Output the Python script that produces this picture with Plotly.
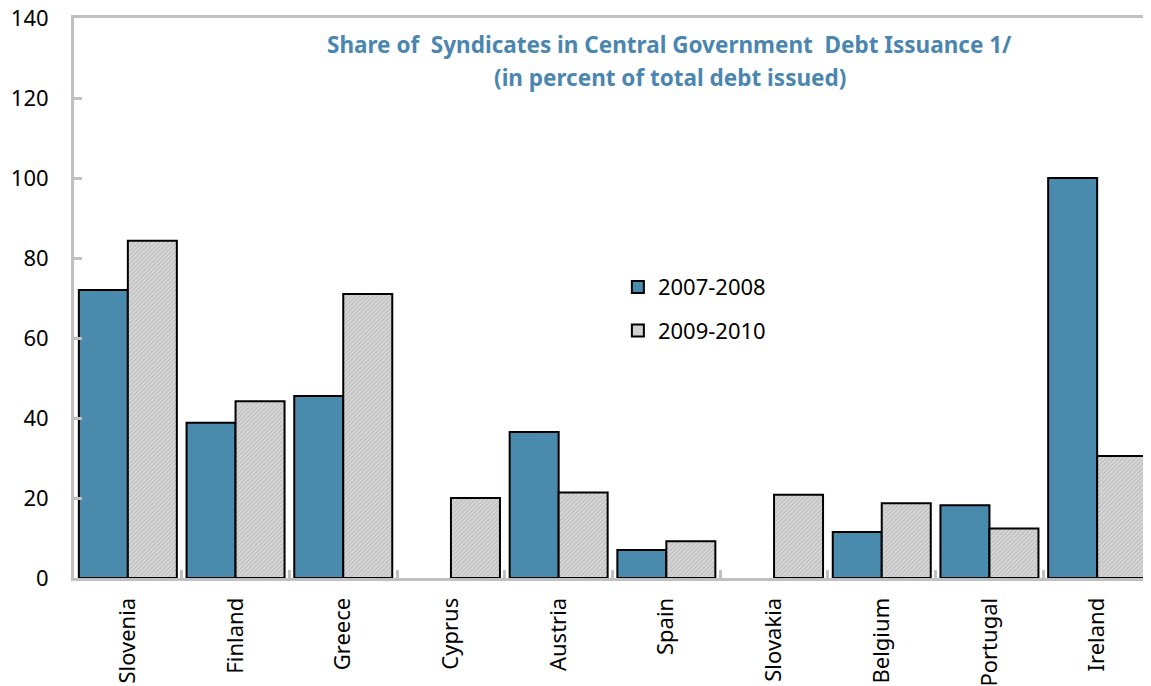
import plotly.graph_objects as go

countries = ["Slovenia", "Finland", "Greece", "Cyprus", "Austria", "Spain",
             "Slovakia", "Belgium", "Portugal", "Ireland"]
s2007_2008 = [72, 38.8, 45.5, None, 36.5, 7, None, 11.5, 18.2, 100]
s2009_2010 = [84.3, 44.2, 71, 20, 21.4, 9.2, 20.8, 18.7, 12.4, 30.5]
series_names = ["2007-2008", "2009-2010"]
title_lines = ["Share of  Syndicates in Central Government  Debt Issuance 1/",
               "(in percent of total debt issued)"]
y_ticks = [0, 20, 40, 60, 80, 100, 120, 140]

FONT = "Noto Sans"
AXIS_GRAY = "#c0c0c0"
TITLE_BLUE = "#4a86b0"

fig = go.Figure()
fig.add_trace(go.Bar(
    x=countries, y=s2007_2008, name=series_names[0],
    marker=dict(color="#4a8aad", line=dict(color="black", width=2)),
    legendgroup="a",
))
fig.add_trace(go.Bar(
    x=countries, y=s2009_2010, name=series_names[1],
    marker=dict(color="#d4d4d4", line=dict(color="black", width=2),
                pattern=dict(shape="/", fgcolor="#9a9a9a", bgcolor="#d8d8d8",
                             size=3, solidity=0.35)),
    legendgroup="b",
))

for line, ypos in zip(title_lines, [0.953, 0.894]):
    fig.add_annotation(
        text="<b>" + line + "</b>",
        xref="paper", yref="paper", x=0.553, y=ypos,
        xanchor="center", yanchor="middle",
        showarrow=False, font=dict(family=FONT, size=22.5, color=TITLE_BLUE),
    )

fig.update_layout(
    width=1151, height=686,
    margin=dict(l=66, r=8, t=10, b=116),
    paper_bgcolor="white", plot_bgcolor="white",
    barmode="group", bargap=0.09, bargroupgap=0,
    font=dict(family=FONT, size=22, color="black"),
    legend=dict(x=0.505, y=0.557, xanchor="left", yanchor="top",
                font=dict(family=FONT, size=22, color="black"),
                bgcolor="rgba(0,0,0,0)", tracegroupgap=12,
                traceorder="grouped"),
    xaxis=dict(
        range=[-0.5, 9.5], showline=True, linecolor=AXIS_GRAY, linewidth=3,
        mirror=True, ticks="inside", tickson="boundaries", ticklen=8,
        tickcolor=AXIS_GRAY, tickwidth=3, tickangle=-90, automargin=False,
        ticklabelstandoff=8,
        tickfont=dict(family=FONT, size=22, color="black"),
        showgrid=False, zeroline=False,
    ),
    yaxis=dict(
        range=[0, 140], tickvals=y_ticks, showline=True, linecolor=AXIS_GRAY,
        linewidth=3, ticks="inside", ticklen=8, tickcolor=AXIS_GRAY, tickwidth=3,
        automargin=False, ticklabeloverflow="allow", ticklabelstandoff=18,
        tickfont=dict(family=FONT, size=22, color="black"),
        showgrid=False, zeroline=False,
    ),
)

fig.write_html("out.html")
